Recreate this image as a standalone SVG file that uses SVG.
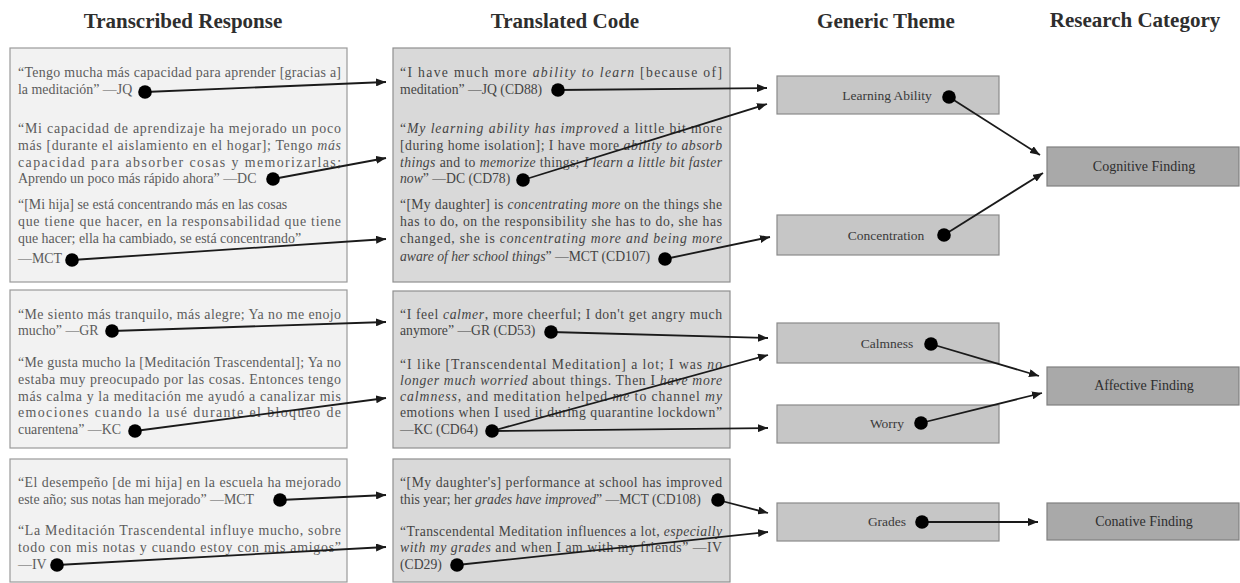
<svg xmlns="http://www.w3.org/2000/svg" width="1240" height="583" viewBox="0 0 1240 583">
<style>
.hdr{font-family:"Liberation Serif","Times New Roman",serif;font-weight:bold;font-size:21px;fill:#2e2e2e;text-anchor:middle}
.lt{font-family:"Liberation Serif","Times New Roman",serif;font-size:13.9px;fill:#5c5c5c}
.mt{font-family:"Liberation Serif","Times New Roman",serif;font-size:13.7px;fill:#444}
.nt{font-family:"Liberation Serif","Times New Roman",serif;font-size:13.5px;fill:#3a3a3a;text-anchor:middle}
.ct{font-family:"Liberation Serif","Times New Roman",serif;font-size:14px;fill:#2e2e2e;text-anchor:middle}
.i{font-style:italic}
.lbox{fill:#f2f2f2;stroke:#9a9a9a;stroke-width:1.2}
.mbox{fill:#d9d9d9;stroke:#8f8f8f;stroke-width:1.2}
.tbox{fill:#c6c6c6;stroke:#8a8a8a;stroke-width:1.2}
.cbox{fill:#a9a9a9;stroke:#808080;stroke-width:1.2}
.ln{stroke:#1a1a1a;stroke-width:1.8;fill:none;marker-end:url(#ah)}
.dot{fill:#000}
</style>
<defs>
<marker id="ah" markerUnits="userSpaceOnUse" markerWidth="10" markerHeight="8" refX="10" refY="4" orient="auto">
<path d="M0,0 L10,4 L0,8 z" fill="#1a1a1a"/>
</marker>
</defs>
<rect width="1240" height="583" fill="#fff"/>

<g id="headers">
<text class="hdr" x="183" y="28">Transcribed Response</text>
<text class="hdr" x="565" y="28">Translated Code</text>
<text class="hdr" x="886" y="28">Generic Theme</text>
<text class="hdr" x="1135" y="27">Research Category</text>
</g>

<g id="resp-cognitive">
<rect class="lbox" x="10" y="48" width="337" height="234"/>
<text class="lt" x="18" y="77" textLength="323" lengthAdjust="spacing">“Tengo mucha más capacidad para aprender [gracias a]</text>
<text class="lt" x="18" y="94">la meditación” —JQ</text>
<text class="lt" x="18" y="133" textLength="323" lengthAdjust="spacing">“Mi capacidad de aprendizaje ha mejorado un poco</text>
<text class="lt" x="18" y="150" textLength="323" lengthAdjust="spacing">más [durante el aislamiento en el hogar]; Tengo <tspan class="i">más</tspan></text>
<text class="lt" x="18" y="167" textLength="323" lengthAdjust="spacing">capacidad para absorber cosas y memorizarlas;</text>
<text class="lt" x="18" y="183">Aprendo un poco más rápido ahora” —DC</text>
<text class="lt" x="18" y="209">“[Mi hija] se está concentrando más en las cosas</text>
<text class="lt" x="18" y="226" textLength="323" lengthAdjust="spacing">que tiene que hacer, en la responsabilidad que tiene</text>
<text class="lt" x="18" y="243">que hacer; ella ha cambiado, se está concentrando”</text>
<text class="lt" x="18" y="263">—MCT</text>
</g>

<g id="resp-affective">
<rect class="lbox" x="10" y="290" width="337" height="158"/>
<text class="lt" x="18" y="319" textLength="323" lengthAdjust="spacing">“Me siento más tranquilo, más alegre; Ya no me enojo</text>
<text class="lt" x="18" y="335">mucho” —GR</text>
<text class="lt" x="18" y="367" textLength="323" lengthAdjust="spacing">“Me gusta mucho la [Meditación Trascendental]; Ya no</text>
<text class="lt" x="18" y="384" textLength="323" lengthAdjust="spacing">estaba muy preocupado por las cosas. Entonces tengo</text>
<text class="lt" x="18" y="401" textLength="323" lengthAdjust="spacing">más calma y la meditación me ayudó a canalizar mis</text>
<text class="lt" x="18" y="417" textLength="323" lengthAdjust="spacing">emociones cuando la usé durante el bloqueo de</text>
<text class="lt" x="18" y="434">cuarentena” —KC</text>
</g>

<g id="resp-conative">
<rect class="lbox" x="10" y="459" width="337" height="123"/>
<text class="lt" x="18" y="487" textLength="323" lengthAdjust="spacing">“El desempeño [de mi hija] en la escuela ha mejorado</text>
<text class="lt" x="18" y="504">este año; sus notas han mejorado” —MCT</text>
<text class="lt" x="18" y="535" textLength="323" lengthAdjust="spacing">“La Meditación Trascendental influye mucho, sobre</text>
<text class="lt" x="18" y="552" textLength="323" lengthAdjust="spacing">todo con mis notas y cuando estoy con mis amigos”</text>
<text class="lt" x="18" y="569">—IV</text>
</g>

<g id="code-cognitive">
<rect class="mbox" x="393" y="48" width="337" height="234"/>
<text class="mt" x="400" y="77" textLength="322" lengthAdjust="spacing">“I have much more <tspan class="i">ability to learn</tspan> [because of]</text>
<text class="mt" x="400" y="94">meditation” —JQ (CD88)</text>
<text class="mt" x="400" y="133" textLength="322" lengthAdjust="spacing">“<tspan class="i">My learning ability has improved</tspan> a little bit more</text>
<text class="mt" x="400" y="150" textLength="322" lengthAdjust="spacing">[during home isolation]; I have more <tspan class="i">ability to absorb</tspan></text>
<text class="mt" x="400" y="167" textLength="322" lengthAdjust="spacing"><tspan class="i">things</tspan> and to <tspan class="i">memorize</tspan> things; <tspan class="i">I learn a little bit faster</tspan></text>
<text class="mt" x="400" y="183"><tspan class="i">now</tspan>” —DC (CD78)</text>
<text class="mt" x="400" y="209" textLength="322" lengthAdjust="spacing">“[My daughter] is <tspan class="i">concentrating more</tspan> on the things she</text>
<text class="mt" x="400" y="226" textLength="322" lengthAdjust="spacing">has to do, on the responsibility she has to do, she has</text>
<text class="mt" x="400" y="243" textLength="322" lengthAdjust="spacing">changed, she is <tspan class="i">concentrating more and being more</tspan></text>
<text class="mt" x="400" y="261"><tspan class="i">aware of her school things</tspan>” —MCT (CD107)</text>
</g>

<g id="code-affective">
<rect class="mbox" x="393" y="291" width="337" height="157"/>
<text class="mt" x="400" y="319" textLength="322" lengthAdjust="spacing">“I feel <tspan class="i">calmer</tspan>, more cheerful; I don't get angry much</text>
<text class="mt" x="400" y="335">anymore” —GR (CD53)</text>
<text class="mt" x="400" y="369" textLength="322" lengthAdjust="spacing">“I like [Transcendental Meditation] a lot; I was <tspan class="i">no</tspan></text>
<text class="mt" x="400" y="385" textLength="322" lengthAdjust="spacing"><tspan class="i">longer much worried</tspan> about things. Then I <tspan class="i">have more</tspan></text>
<text class="mt" x="400" y="401" textLength="322" lengthAdjust="spacing"><tspan class="i">calmness</tspan>, and meditation helped <tspan class="i">me</tspan> to channel <tspan class="i">my</tspan></text>
<text class="mt" x="400" y="417" textLength="322" lengthAdjust="spacing">emotions when I used it during quarantine lockdown”</text>
<text class="mt" x="400" y="434">—KC (CD64)</text>
</g>

<g id="code-conative">
<rect class="mbox" x="393" y="459" width="337" height="123"/>
<text class="mt" x="400" y="487" textLength="322" lengthAdjust="spacing">“[My daughter's] performance at school has improved</text>
<text class="mt" x="400" y="504">this year; her <tspan class="i">grades have improved</tspan>” —MCT (CD108)</text>
<text class="mt" x="400" y="536" textLength="322" lengthAdjust="spacing">“Transcendental Meditation influences a lot, <tspan class="i">especially</tspan></text>
<text class="mt" x="400" y="552" textLength="322" lengthAdjust="spacing"><tspan class="i">with my grades</tspan> and when I am with my friends” —IV</text>
<text class="mt" x="400" y="569">(CD29)</text>
</g>

<g id="theme-learning-ability">
<rect class="tbox" x="777" y="76" width="222" height="38"/>
<text class="nt" x="887" y="100">Learning Ability</text>
</g>
<g id="theme-concentration">
<rect class="tbox" x="777" y="215" width="222" height="40"/>
<text class="nt" x="886" y="240">Concentration</text>
</g>
<g id="theme-calmness">
<rect class="tbox" x="777" y="323" width="222" height="40"/>
<text class="nt" x="887" y="348">Calmness</text>
</g>
<g id="theme-worry">
<rect class="tbox" x="777" y="405" width="222" height="38"/>
<text class="nt" x="887" y="428">Worry</text>
</g>
<g id="theme-grades">
<rect class="tbox" x="777" y="503" width="222" height="38"/>
<text class="nt" x="887" y="526">Grades</text>
</g>

<g id="cat-cognitive">
<rect class="cbox" x="1047" y="147" width="192" height="39"/>
<text class="ct" x="1144" y="171">Cognitive Finding</text>
</g>
<g id="cat-affective">
<rect class="cbox" x="1047" y="367" width="192" height="38"/>
<text class="ct" x="1144" y="390">Affective Finding</text>
</g>
<g id="cat-conative">
<rect class="cbox" x="1047" y="503" width="192" height="37"/>
<text class="ct" x="1144" y="526">Conative Finding</text>
</g>

<g id="connectors">
<line class="ln" x1="145" y1="92" x2="386" y2="82"/>
<line class="ln" x1="273" y1="179" x2="386" y2="158"/>
<line class="ln" x1="72" y1="260" x2="386" y2="239"/>
<line class="ln" x1="112" y1="331" x2="386" y2="322"/>
<line class="ln" x1="135" y1="431" x2="386" y2="398"/>
<line class="ln" x1="280" y1="500" x2="386" y2="495"/>
<line class="ln" x1="57" y1="565" x2="386" y2="547"/>

<line class="ln" x1="558" y1="90" x2="767" y2="88"/>
<line class="ln" x1="523" y1="180" x2="767" y2="104"/>
<line class="ln" x1="665" y1="259" x2="770" y2="237"/>
<line class="ln" x1="551" y1="332" x2="768" y2="338"/>
<line class="ln" x1="492" y1="431" x2="768" y2="355"/>
<line class="ln" x1="492" y1="431" x2="768" y2="428"/>
<line class="ln" x1="718" y1="500" x2="768" y2="513"/>
<line class="ln" x1="457" y1="565" x2="768" y2="532"/>

<line class="ln" x1="949" y1="97" x2="1040" y2="155"/>
<line class="ln" x1="944" y1="235" x2="1043" y2="173"/>
<line class="ln" x1="931" y1="344" x2="1039" y2="376"/>
<line class="ln" x1="921" y1="423" x2="1042" y2="393"/>
<line class="ln" x1="922" y1="522" x2="1038" y2="522"/>

<circle class="dot" cx="145" cy="92" r="6.8"/>
<circle class="dot" cx="273" cy="179" r="6.8"/>
<circle class="dot" cx="72" cy="260" r="6.8"/>
<circle class="dot" cx="112" cy="331" r="6.8"/>
<circle class="dot" cx="135" cy="431" r="6.8"/>
<circle class="dot" cx="280" cy="500" r="6.8"/>
<circle class="dot" cx="57" cy="565" r="6.8"/>
<circle class="dot" cx="558" cy="90" r="6.8"/>
<circle class="dot" cx="523" cy="180" r="6.8"/>
<circle class="dot" cx="665" cy="259" r="6.8"/>
<circle class="dot" cx="551" cy="332" r="6.8"/>
<circle class="dot" cx="492" cy="431" r="6.8"/>
<circle class="dot" cx="718" cy="500" r="6.8"/>
<circle class="dot" cx="457" cy="565" r="6.8"/>
<circle class="dot" cx="949" cy="97" r="6.8"/>
<circle class="dot" cx="944" cy="235" r="6.8"/>
<circle class="dot" cx="931" cy="344" r="6.8"/>
<circle class="dot" cx="921" cy="423" r="6.8"/>
<circle class="dot" cx="922" cy="522" r="6.8"/>
</g>
</svg>
